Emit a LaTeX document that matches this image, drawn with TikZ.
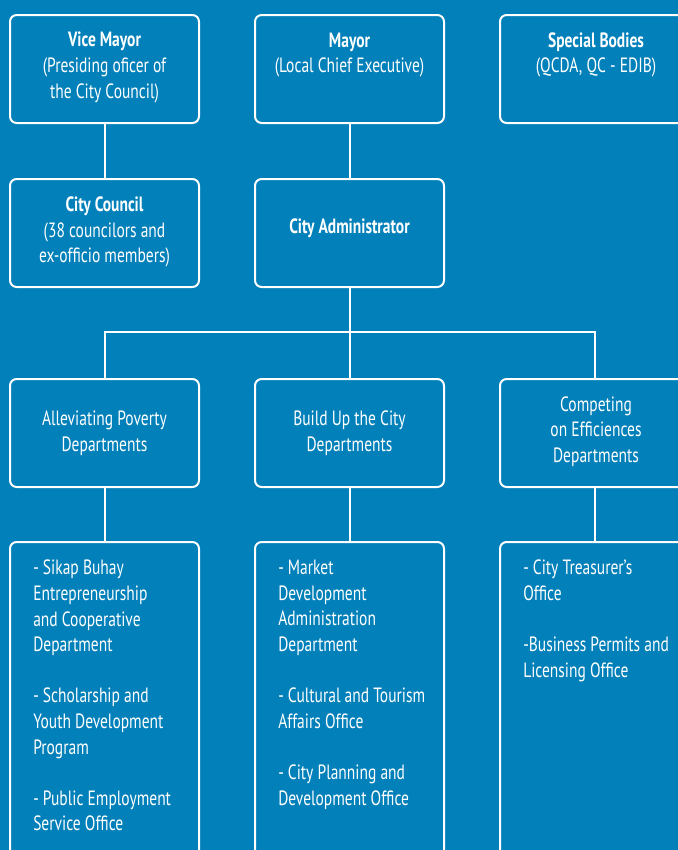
\documentclass[tikz,border=0pt]{standalone}
\usepackage{fontspec}
\setmainfont{PT Sans}[FakeStretch=0.75]
\definecolor{bgblue}{RGB}{2,128,186}
\tikzset{
  box/.style={draw=white, line width=1.5pt, rounded corners=5pt, inner sep=0pt, fill=bgblue},
  lbl/.style={text=white, align=center, inner sep=0pt, font=\fontsize{15.5}{19.2}\selectfont},
  lst/.style={text=white, align=left, inner sep=0pt, anchor=north west, font=\fontsize{15.5}{19.2}\selectfont},
  conn/.style={draw=white, line width=1.5pt}
}
\begin{document}
\begin{tikzpicture}[x=0.75pt,y=-0.75pt]
\fill[bgblue] (0,0) rectangle (678,850);
\useasboundingbox (0,0) rectangle (678,850);
\clip (0,0) rectangle (678,850);
% row 1
\node[box, minimum width=141.75pt, minimum height=81pt] (vm) at (104.5,69) {};
\node[box, minimum width=141.75pt, minimum height=81pt] (mayor) at (349.5,69) {};
\node[box, minimum width=141.75pt, minimum height=81pt] (sb) at (594.5,69) {};
% row 2
\node[box, minimum width=141.75pt, minimum height=81pt] (cc) at (104.5,233) {};
\node[box, minimum width=141.75pt, minimum height=81pt] (admin) at (349.5,233) {};
% row 3
\node[box, minimum width=141.75pt, minimum height=81pt] (ap) at (104.5,433) {};
\node[box, minimum width=141.75pt, minimum height=81pt] (bu) at (349.5,433) {};
\node[box, minimum width=141.75pt, minimum height=81pt] (ce) at (594.5,433) {};
% row 4
\node[box, minimum width=141.75pt, minimum height=300pt] (la) at (104.5,742) {};
\node[box, minimum width=141.75pt, minimum height=300pt] (lb) at (349.5,742) {};
\node[box, minimum width=141.75pt, minimum height=300pt] (lc) at (594.5,742) {};
% connectors
\draw[conn] (vm.south) -- (cc.north);
\draw[conn] (mayor.south) -- (admin.north);
\draw[conn] (admin.south) -- (bu.north);
\coordinate (busl) at (104.5,332);
\coordinate (busr) at (594.5,332);
\draw[conn] (ap.north) -- (busl) -- (busr) -- (ce.north);
\draw[conn] (ap.south) -- (la.north);
\draw[conn] (bu.south) -- (lb.north);
\draw[conn] (ce.south) -- (lc.north);
% texts
\node[lbl] (tvm) at (104.5,67.5) {\textbf{Vice Mayor}\\(Presiding oficer of\\the City Council)};
\node[lbl] (tmayor) at (349.5,55) {\textbf{Mayor}\\(Local Chief Executive)};
\node[lbl] (tsb) at (596,55) {\textbf{Special Bodies}\\(QCDA, QC - EDIB)};
\node[lbl] (tcc) at (104.5,232) {\textbf{City Council}\\(38 councilors and\\ex-officio members)};
\node[lbl] (tadmin) at (349.5,228) {\textbf{City Administrator}};
\node[lbl] (tap) at (104.5,433) {Alleviating Poverty\\Departments};
\node[lbl] (tbu) at (349.5,433) {Build Up the City\\Departments};
\node[lbl] (tce) at (596,431.5) {Competing\\on Efficiences\\Departments};
\node[lst] (tla) at (33,560) {- Sikap Buhay\\Entrepreneurship\\and Cooperative\\Department\\[19.2pt]- Scholarship and\\Youth Development\\Program\\[19.2pt]- Public Employment\\Service Office};
\node[lst] (tlb) at (278,560) {- Market\\Development\\Administration\\Department\\[19.2pt]- Cultural and Tourism\\Affairs Office\\[19.2pt]- City Planning and\\Development Office};
\node[lst] (tlc) at (523,560) {- City Treasurer’s\\Office\\[19.2pt]-Business Permits and\\Licensing Office};
\end{tikzpicture}
\end{document}
